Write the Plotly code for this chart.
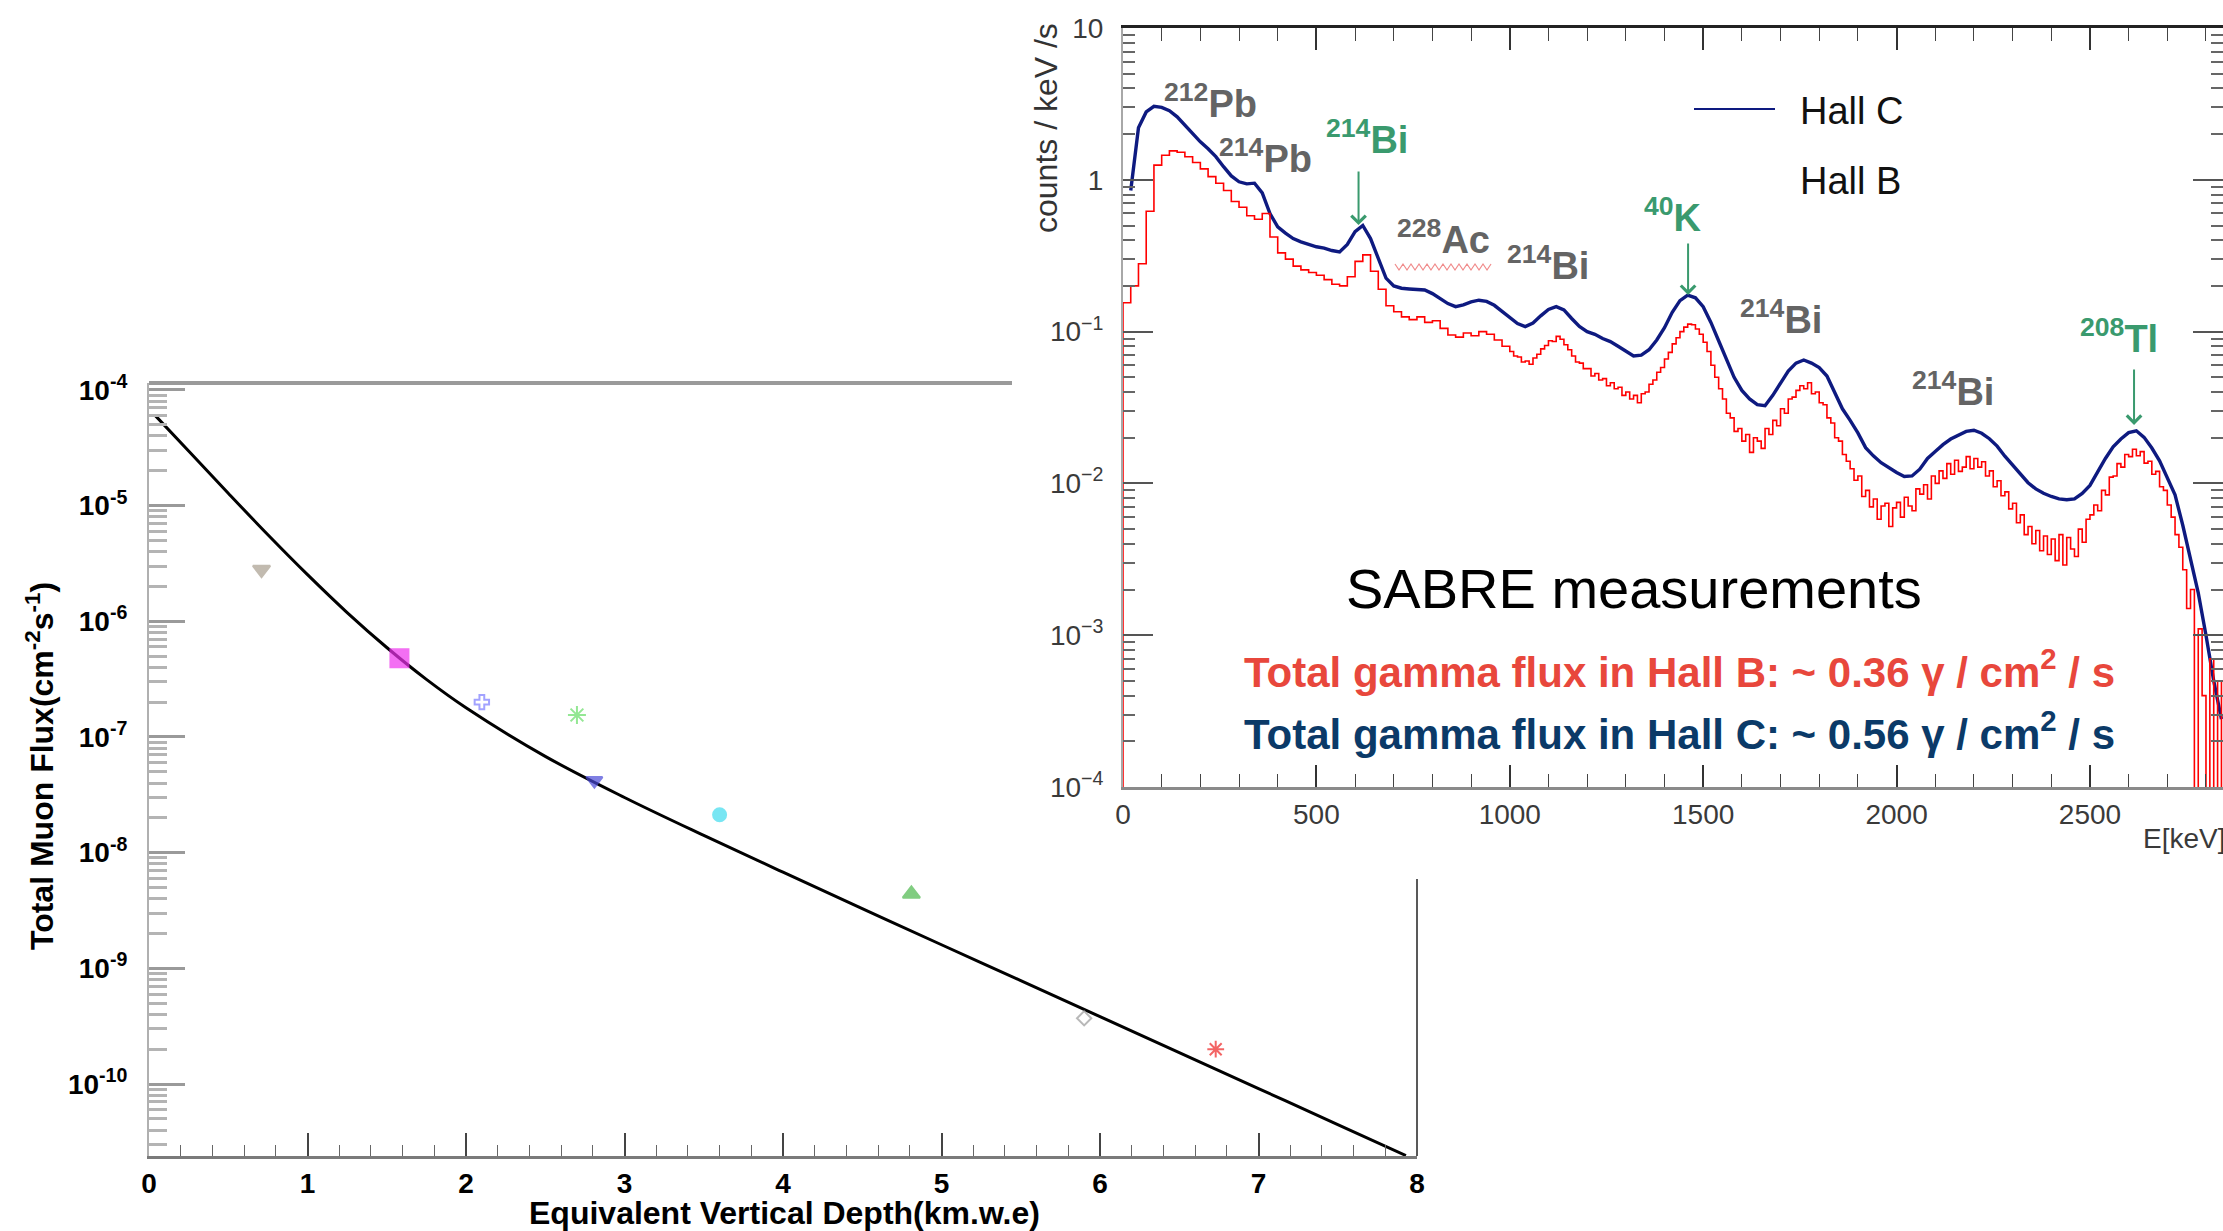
import plotly.graph_objects as go

W, H = 2223, 1231


def px(x):
    return x / W


def py(y):
    return 1 - y / H


# ---------------- Left panel: muon flux vs depth ----------------
depth_curve = [0.04, 0.25, 0.5, 0.75, 1.0, 1.25, 1.5, 1.75, 2.0, 2.5, 3.0,
               3.5, 4.0, 4.5, 5.0, 5.5, 6.0, 6.5, 7.0, 7.5, 7.93]
flux_curve = [6.0e-5, 2.97e-5, 1.28e-5, 5.6e-6, 2.53e-6, 1.19e-6, 5.94e-7,
              3.15e-7, 1.79e-7, 6.8e-8, 3.0e-8, 1.41e-8, 6.78e-9, 3.29e-9,
              1.6e-9, 7.84e-10, 3.83e-10, 1.87e-10, 9.14e-11, 4.46e-11, 2.41e-11]

site_depth = [0.71, 1.58, 2.10, 2.70, 2.81, 3.60, 4.81, 5.90, 6.73]
site_flux = [2.8e-6, 4.8e-7, 2.0e-7, 1.55e-7, 4.2e-8, 2.13e-8, 4.4e-9, 3.7e-10, 2.0e-10]
site_symbol = ["triangle-down", "square", "cross-open", "asterisk-open",
               "triangle-down", "circle", "triangle-up", "diamond-open", "asterisk-open"]
site_color = ["#a99f8f", "#ee33ee", "#7a7aff", "#66dd66", "#4a4ad8",
              "#3fdcee", "#4cb84c", "#9a9a9a", "#ee2222"]
site_size = [15, 18, 12, 15, 14, 13, 15, 11, 14]

flux_tickvals = [1e-10, 1e-9, 1e-8, 1e-7, 1e-6, 1e-5, 1e-4]
flux_ticktext = ["10<sup>-10</sup>", "10<sup>-9</sup>", "10<sup>-8</sup>",
                 "10<sup>-7</sup>", "10<sup>-6</sup>", "10<sup>-5</sup>", "10<sup>-4</sup>"]

# ---------------- Right panel: gamma spectra ----------------
energy_c = list(range(20, 2841, 20))
hall_c = [0.85, 2.2, 2.8, 3.05, 3.0, 2.85, 2.6, 2.3, 2.0, 1.78,
          1.6, 1.42, 1.22, 1.06, 0.97, 0.94, 0.95, 0.82, 0.60, 0.49,
          0.445, 0.41, 0.39, 0.375, 0.362, 0.355, 0.342, 0.335, 0.375, 0.455,
          0.50, 0.41, 0.30, 0.225, 0.200, 0.193, 0.191, 0.19, 0.188, 0.178,
          0.165, 0.153, 0.146, 0.150, 0.157, 0.161, 0.158, 0.149, 0.136, 0.123,
          0.113, 0.108, 0.114, 0.127, 0.140, 0.146, 0.139, 0.122, 0.108, 0.100,
          0.096, 0.090, 0.086, 0.080, 0.074, 0.069, 0.070, 0.076, 0.088, 0.106,
          0.134, 0.160, 0.174, 0.167, 0.146, 0.115, 0.087, 0.065, 0.050, 0.041,
          0.036, 0.033, 0.0325, 0.038, 0.046, 0.055, 0.062, 0.065, 0.062, 0.058,
          0.051, 0.040, 0.031, 0.026, 0.0215, 0.0172, 0.0152, 0.0137, 0.0127, 0.0118,
          0.0111, 0.0112, 0.0124, 0.0146, 0.0162, 0.0180, 0.0196, 0.0209, 0.0220, 0.0224,
          0.0214, 0.0197, 0.0176, 0.0151, 0.0132, 0.0114, 0.0101, 0.0092, 0.0086, 0.0082,
          0.0079, 0.0078, 0.0079, 0.0086, 0.0097, 0.0119, 0.0146, 0.0174, 0.0196, 0.0216,
          0.0222, 0.0201, 0.0171, 0.0141, 0.0110, 0.0084, 0.0053, 0.0031, 0.0019, 0.0010,
          0.0005, 0.00028]

# Hall B: 20 keV bins up to 1 MeV, 10 keV bins above
energy_b_low = [0] + list(range(0, 1000, 20))
hall_b_low = [1e-6, 0.155, 0.20, 0.28, 0.62, 1.25, 1.45, 1.55, 1.52, 1.42, 1.30,
              1.18, 1.05, 0.95, 0.85, 0.72, 0.66, 0.58, 0.55, 0.60, 0.42,
              0.33, 0.30, 0.27, 0.255, 0.245, 0.235, 0.22, 0.205, 0.200, 0.23,
              0.29, 0.32, 0.25, 0.19, 0.148, 0.135, 0.125, 0.12, 0.125, 0.115,
              0.118, 0.105, 0.095, 0.092, 0.098, 0.094, 0.100, 0.096, 0.088, 0.080]
energy_b_high = list(range(1000, 2841, 10))
hall_b_high = [
    0.074, 0.069, 0.068, 0.063, 0.064, 0.061, 0.067, 0.071, 0.077, 0.081,   # 1000
    0.087, 0.086, 0.093, 0.089, 0.082, 0.076, 0.069, 0.063, 0.062, 0.057,   # 1100
    0.057, 0.051, 0.053, 0.048, 0.049, 0.044, 0.046, 0.042, 0.043, 0.038,   # 1200
    0.040, 0.036, 0.038, 0.034, 0.039, 0.040, 0.045, 0.048, 0.054, 0.058,   # 1300
    0.066, 0.073, 0.083, 0.091, 0.100, 0.107, 0.112, 0.111, 0.104, 0.096,   # 1400
    0.085, 0.074, 0.060, 0.050, 0.042, 0.036, 0.029, 0.027, 0.022, 0.023,   # 1500
    0.019, 0.021, 0.016, 0.020, 0.019, 0.017, 0.023, 0.021, 0.026, 0.024,   # 1600
    0.031, 0.029, 0.036, 0.037, 0.041, 0.044, 0.042, 0.046, 0.039, 0.040,   # 1700
    0.034, 0.033, 0.027, 0.025, 0.020, 0.019, 0.0155, 0.014, 0.0125, 0.0105,  # 1800
    0.0112, 0.0082, 0.0090, 0.0070, 0.0079, 0.0058, 0.0071, 0.0074, 0.0052, 0.0069,  # 1900
    0.0075, 0.0060, 0.0081, 0.0071, 0.0066, 0.0092, 0.0085, 0.0098, 0.0079, 0.0112,  # 2000
    0.0100, 0.0121, 0.0108, 0.0135, 0.0115, 0.0142, 0.0120, 0.0128, 0.0150, 0.0125,  # 2100
    0.0146, 0.0128, 0.0139, 0.0112, 0.0121, 0.0095, 0.0104, 0.0083, 0.0088, 0.0068,  # 2200
    0.0074, 0.0055, 0.0062, 0.0046, 0.0052, 0.0040, 0.0049, 0.0036, 0.0045, 0.0034,  # 2300
    0.0043, 0.0031, 0.0046, 0.0029, 0.0044, 0.0037, 0.0033, 0.0050, 0.0041, 0.0058,  # 2400
    0.0062, 0.0072, 0.0066, 0.0090, 0.0084, 0.0110, 0.0112, 0.0135, 0.0128, 0.0155,  # 2500
    0.0150, 0.0168, 0.0152, 0.0162, 0.0136, 0.0140, 0.0115, 0.0120, 0.0095, 0.0090,  # 2600
    0.0072, 0.0060, 0.0046, 0.0038, 0.0027, 0.0015, 0.0020, 1e-6, 0.0011, 0.0004,    # 2700
    1e-6, 0.0007, 1e-6, 0.0005, 1e-6,                                                # 2800
]
energy_b = energy_b_low + energy_b_high
hall_b = hall_b_low + hall_b_high

counts_tickvals = [1e-4, 1e-3, 1e-2, 1e-1, 1, 10]
counts_ticktext = ["10<sup>\u22124</sup>", "10<sup>\u22123</sup>", "10<sup>\u22122</sup>",
                   "10<sup>\u22121</sup>", "1", "10"]

peak_text = ["<sup>212</sup>Pb", "<sup>214</sup>Pb", "<sup>214</sup>Bi", "<sup>228</sup>Ac",
             "<sup>214</sup>Bi", "<sup>40</sup>K", "<sup>214</sup>Bi", "<sup>214</sup>Bi",
             "<sup>208</sup>Tl"]
peak_text_kev = [226, 368, 630, 829, 1100, 1421, 1702, 2146, 2576]
peak_text_logy = [0.516, 0.157, 0.285, -0.380, -0.545, -0.232, -0.907, -1.378, -1.029]
peak_text_green = [False, False, True, False, False, True, False, False, True]

arrow_kev = [609, 1461, 2614]
arrow_tail_logy = [0.065, -0.410, -1.240]
arrow_tip_logy = [-0.298, -0.759, -1.615]

GRAY_LBL = "#646464"
GREEN = "#3a9a6e"
NAVY = "#0e1a80"

fig = go.Figure()

# Depth-intensity curve and site measurements
fig.add_trace(go.Scatter(x=depth_curve, y=flux_curve, mode="lines",
                         line=dict(color="black", width=3, shape="spline"),
                         xaxis="x", yaxis="y", hoverinfo="skip"))
fig.add_trace(go.Scatter(x=site_depth, y=site_flux, mode="markers",
                         marker=dict(symbol=site_symbol, color=site_color, size=site_size,
                                     line=dict(color=site_color, width=2)),
                         xaxis="x", yaxis="y"))

# Gamma spectra
fig.add_trace(go.Scatter(x=energy_c, y=hall_c, mode="lines", name="Hall C",
                         line=dict(color=NAVY, width=3.4),
                         xaxis="x2", yaxis="y2"))
fig.add_trace(go.Scatter(x=energy_b, y=hall_b, mode="lines", name="Hall B",
                         line=dict(color="#ff0000", width=1.6, shape="hv"),
                         xaxis="x2", yaxis="y2"))

left_tickfont = dict(family="Liberation Sans, Arial, sans-serif", size=28,
                     color="black", weight="bold")
right_tickfont = dict(family="Liberation Sans, Arial, sans-serif", size=28, color="#3a3a3a")

fig.update_layout(
    width=W, height=H, autosize=False,
    margin=dict(l=0, r=0, t=0, b=0, pad=0, autoexpand=False),
    paper_bgcolor="white", plot_bgcolor="rgba(0,0,0,0)", showlegend=False,
    font=dict(family="Liberation Sans, Arial, sans-serif"),
    xaxis=dict(domain=[px(149), px(1417)], range=[0, 8], anchor="y", automargin=False,
               showline=True, linecolor="#7a7a7a", linewidth=3,
               ticks="inside", ticklen=23, tickwidth=1.5, tickcolor="#444",
               tick0=0, dtick=1, tickfont=left_tickfont, ticklabelstandoff=0,
               minor=dict(ticks="inside", ticklen=11, tickwidth=1.2, tickcolor="#666",
                          dtick=0.2, showgrid=False),
               showgrid=False, zeroline=False),
    yaxis=dict(domain=[py(1156), py(383)], type="log", range=[-10.622, -3.94],
               anchor="x", automargin=False, showline=True, linecolor="#b0b0b0", linewidth=2,
               ticks="inside", ticklen=36, tickwidth=3, tickcolor="#9a9a9a",
               tickmode="array", tickvals=flux_tickvals, ticktext=flux_ticktext,
               tickfont=left_tickfont, ticklabelstandoff=14,
               minor=dict(ticks="inside", ticklen=18, tickwidth=2.5, tickcolor="#b4b4b4",
                          dtick="D1", showgrid=False),
               showgrid=False, zeroline=False),
    xaxis2=dict(domain=[px(1123), 1.0], range=[0, 2844], anchor="y2", automargin=False,
                showline=True, linecolor="#8a8a8a", linewidth=3,
                ticks="inside", ticklen=22, tickwidth=1.5, tickcolor="#333",
                tick0=0, dtick=500, tickfont=right_tickfont, ticklabelstandoff=0,
                minor=dict(ticks="inside", ticklen=13, tickwidth=1.2, tickcolor="#444",
                           dtick=100, showgrid=False),
                showgrid=False, zeroline=False),
    xaxis3=dict(overlaying="x2", side="top", anchor="y2", range=[0, 2844], automargin=False,
                showline=True, linecolor="#222", linewidth=2.5,
                ticks="inside", ticklen=22, tickwidth=1.5, tickcolor="#333",
                tick0=0, dtick=500, showticklabels=False,
                minor=dict(ticks="inside", ticklen=13, tickwidth=1.2, tickcolor="#444",
                           dtick=100, showgrid=False),
                showgrid=False, zeroline=False),
    yaxis2=dict(domain=[py(787), py(28)], type="log", range=[-4, 1], anchor="x2",
                automargin=False, showline=True, linecolor="#a8a8a8", linewidth=2,
                ticks="inside", ticklen=30, tickwidth=2, tickcolor="#555",
                tickmode="array", tickvals=counts_tickvals, ticktext=counts_ticktext,
                tickfont=right_tickfont, ticklabelstandoff=12,
                minor=dict(ticks="inside", ticklen=12, tickwidth=1.5, tickcolor="#666",
                           dtick="D1", showgrid=False),
                showgrid=False, zeroline=False),
    yaxis3=dict(overlaying="y2", side="right", anchor="x2", type="log", range=[-4, 1],
                automargin=False, showline=False, ticks="inside", ticklen=30, tickwidth=2,
                tickcolor="#555", tickmode="array", tickvals=counts_tickvals,
                showticklabels=False,
                minor=dict(ticks="inside", ticklen=12, tickwidth=1.5, tickcolor="#666",
                           dtick="D1", showgrid=False),
                showgrid=False, zeroline=False),
)

# Invisible trace so the overlay axes are drawn
fig.add_trace(go.Scatter(x=[0], y=[1e-6], mode="markers", marker=dict(opacity=0),
                         xaxis="x3", yaxis="y3", hoverinfo="skip"))

shapes = [
    # frame pieces of the depth panel that remain visible
    dict(type="line", xref="paper", yref="paper", x0=px(149), x1=px(1012),
         y0=py(383), y1=py(383), line=dict(color="#9a9a9a", width=4)),
    dict(type="line", xref="paper", yref="paper", x0=px(1417), x1=px(1417),
         y0=py(879), y1=py(1156), line=dict(color="#222", width=1.5)),
    # legend sample line for Hall C
    dict(type="line", xref="paper", yref="paper", x0=px(1694), x1=px(1775),
         y0=py(109), y1=py(109), line=dict(color=NAVY, width=2)),
]

# wavy underline beneath the 228Ac label
zig = []
xx = 1395
k = 0
while xx <= 1492:
    yy = 267 + (3 if k % 2 else -3)
    zig.append(("M" if k == 0 else "L") + f"{px(xx):.5f},{py(yy):.5f}")
    xx += 4
    k += 1
shapes.append(dict(type="path", xref="paper", yref="paper", path=" ".join(zig),
                   line=dict(color="#f08a8a", width=1.2)))
fig.update_layout(shapes=shapes)

ann = []
# axis titles
ann.append(dict(text="<b>Equivalent Vertical Depth(km.w.e)</b>", xref="paper", yref="paper",
                x=px(784), y=py(1213), showarrow=False, xanchor="center", yanchor="middle",
                font=dict(size=32, color="black")))
ann.append(dict(text="<b>Total Muon Flux(cm<sup>-2</sup>s<sup>-1</sup>)</b>", xref="paper",
                yref="paper", x=px(40), y=py(766), textangle=-90, showarrow=False,
                xanchor="center", yanchor="middle", font=dict(size=32, color="black")))
ann.append(dict(text="counts / keV /s", xref="paper", yref="paper", x=px(1046), y=py(128),
                textangle=-90, showarrow=False, xanchor="center", yanchor="middle",
                font=dict(size=32, color="#333")))
ann.append(dict(text="E[keV]", xref="paper", yref="paper", x=px(2141), y=py(839),
                showarrow=False, xanchor="left", yanchor="middle",
                font=dict(size=28, color="#3a3a3a")))

# peak labels
for t, kx, ly, g in zip(peak_text, peak_text_kev, peak_text_logy, peak_text_green):
    ann.append(dict(text=f"<b>{t}</b>", xref="x2", yref="y2", x=kx, y=ly, showarrow=False,
                    xanchor="center", yanchor="middle",
                    font=dict(size=38, color=GREEN if g else GRAY_LBL)))
for kx, lt, lh in zip(arrow_kev, arrow_tail_logy, arrow_tip_logy):
    ann.append(dict(text="", xref="x2", yref="y2", x=kx, y=lh, axref="x2", ayref="y2",
                    ax=kx, ay=lt, showarrow=True, arrowhead=4, arrowsize=1.4,
                    arrowwidth=2, arrowcolor=GREEN))

# legend texts
ann.append(dict(text="Hall C", xref="paper", yref="paper", x=px(1798), y=py(111),
                showarrow=False, xanchor="left", yanchor="middle",
                font=dict(size=38, color="#111")))
ann.append(dict(text="Hall B", xref="paper", yref="paper", x=px(1798), y=py(181),
                showarrow=False, xanchor="left", yanchor="middle",
                font=dict(size=38, color="#111")))

# summary texts
ann.append(dict(text="SABRE measurements", xref="paper", yref="paper", x=px(1634), y=py(588),
                showarrow=False, xanchor="center", yanchor="middle",
                font=dict(size=56, color="black")))
ann.append(dict(text="<b>Total gamma flux in Hall B: ~ 0.36 \u03b3 / cm<sup>2</sup> / s</b>",
                xref="paper", yref="paper", x=px(1679), y=py(669), showarrow=False,
                xanchor="center", yanchor="middle", font=dict(size=42, color="#e8473c")))
ann.append(dict(text="<b>Total gamma flux in Hall C: ~ 0.56 \u03b3 / cm<sup>2</sup> / s</b>",
                xref="paper", yref="paper", x=px(1679), y=py(731), showarrow=False,
                xanchor="center", yanchor="middle", font=dict(size=42, color="#0b3a68")))

fig.update_layout(annotations=ann)

# keep the page free of body margins so the figure sits at the corner
page_fix = ("document.body.style.margin='0px';"
            "document.body.style.overflow='hidden';")

fig.write_html("out.html", post_script=page_fix)
